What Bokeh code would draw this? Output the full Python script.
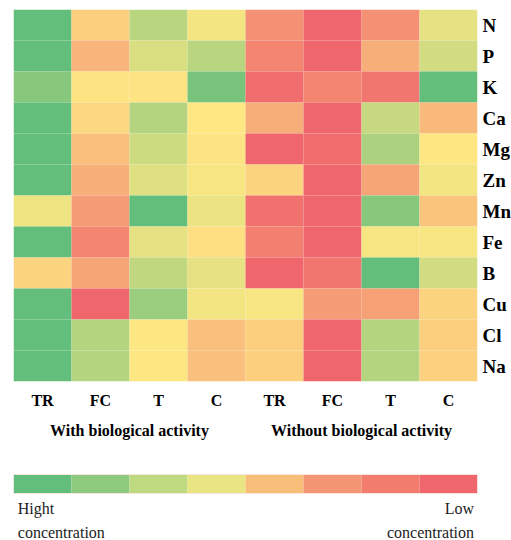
from bokeh.plotting import figure
from bokeh.models import FactorRange, LinearColorMapper, Range1d, ColumnDataSource
from bokeh.layouts import column
from bokeh.transform import transform
from bokeh.core.properties import value
from bokeh.embed import file_html
from bokeh.resources import INLINE

# ---------------- data ----------------
elements = ["N", "P", "K", "Ca", "Mg", "Zn", "Mn", "Fe", "B", "Cu", "Cl", "Na"]
conditions = ["TR", "FC", "T", "C"]
groups = ["With biological activity", "Without biological activity"]

# relative concentration score: 100 = highest (green), 0 = lowest (red)
with_TR = [100, 100, 88, 100, 100, 100, 55, 100, 42, 100, 100, 100]
with_FC = [40, 30, 48, 44, 34, 28, 20, 12, 24, 0, 74, 74]
with_T = [72, 62, 48, 74, 66, 60, 100, 58, 70, 82, 51, 51]
with_C = [54, 72, 93, 50, 48, 52, 56, 46, 58, 54, 34, 34]
without_TR = [16, 12, 2, 28, 0, 42, 4, 10, 0, 52, 40, 40]
without_FC = [0, 0, 12, 0, 2, 0, 0, 0, 6, 20, 0, 0]
without_T = [16, 28, 6, 68, 76, 24, 88, 52, 100, 22, 74, 74]
without_C = [58, 64, 100, 32, 49, 54, 36, 52, 64, 42, 40, 41]

legend_steps = [1, 2, 3, 4, 5, 6, 7, 8]
legend_left = ["Hight", "concentration"]
legend_right = ["Low", "concentration"]

# ---------------- styles ----------------
RED = (239, 103, 108)
YEL = (254, 232, 131)
GRN = (99, 190, 123)


def lerp(a, b, t):
    return "#%02x%02x%02x" % tuple(int(round(a[i] + (b[i] - a[i]) * t)) for i in range(3))


heat_palette = [lerp(RED, YEL, i / 127) for i in range(128)] + [lerp(YEL, GRN, i / 127) for i in range(128)]
legend_palette = ["#63BE7B", "#8FCB7E", "#BFD981", "#E9E583", "#F8BE79", "#F49573", "#F27C6E", "#EF676C"]
SERIF = "Liberation Serif"

# ---------------- heatmap ----------------
columns_data = [with_TR, with_FC, with_T, with_C, without_TR, without_FC, without_T, without_C]
factors = [(g, c) for g in groups for c in conditions]
xs, ys, vs = [], [], []
for f, col in zip(factors, columns_data):
    for e, v in zip(elements, col):
        xs.append(f)
        ys.append(e)
        vs.append(v)
src = ColumnDataSource(dict(x=xs, y=ys, v=vs))
mapper = LinearColorMapper(palette=heat_palette, low=0, high=100)

p = figure(
    x_range=FactorRange(*factors, factor_padding=0, group_padding=0, subgroup_padding=0),
    y_range=FactorRange(*reversed(elements)),
    frame_width=464, frame_height=372,
    min_border_left=13, min_border_right=34, min_border_top=9, min_border_bottom=70,
    y_axis_location="right", toolbar_location=None, output_backend="svg",
)
p.rect(x="x", y="y", width=1, height=1, source=src,
       fill_color=transform("v", mapper), line_color=None)
p.outline_line_color = None
p.grid.grid_line_color = None
p.background_fill_color = "white"

for ax in (p.xaxis, p.yaxis):
    ax.axis_line_color = None
    ax.major_tick_line_color = None
    ax.minor_tick_line_color = None
    ax.major_tick_out = 0
    ax.major_label_text_font = SERIF
    ax.major_label_text_font_style = "bold"
    ax.major_label_text_color = "black"

p.xaxis.major_label_text_font_size = "16px"
p.xaxis.major_label_standoff = 10
p.xaxis.group_text_font = SERIF
p.xaxis.group_text_font_style = "bold"
p.xaxis.group_text_font_size = "16px"
p.xaxis.group_text_color = "black"
p.xaxis.separator_line_color = None
p.yaxis.major_label_text_font_size = "19px"
p.yaxis.major_label_standoff = 5

# ---------------- legend bar ----------------
p2 = figure(
    x_range=Range1d(0, 8), y_range=Range1d(89, 0),
    frame_width=464, frame_height=89,
    min_border_left=13, min_border_right=34, min_border_top=0, min_border_bottom=0,
    x_axis_location=None, y_axis_location=None,
    toolbar_location=None, output_backend="svg",
)
p2.outline_line_color = None
p2.grid.grid_line_color = None
lmap = LinearColorMapper(palette=legend_palette, low=0.5, high=8.5)
lsrc = ColumnDataSource(dict(x=[s - 0.5 for s in legend_steps], s=legend_steps))
p2.rect(x="x", y=32.5, width=1, height=19, source=lsrc,
        fill_color=transform("s", lmap), line_color=None)
p2.rect(x=[4], y=[32.5], width=8, height=19, fill_color=None,
        line_color="#F6E4E2", line_width=1)
p2.text(x=[0.074, 0.074], y=[57, 81], text=legend_left, text_font=value(SERIF),
        text_font_size="16px", text_align="left", text_baseline="middle", text_color="#222222")
p2.text(x=[7.94, 7.94], y=[57, 81], text=legend_right, text_font=value(SERIF),
        text_font_size="16px", text_align="right", text_baseline="middle", text_color="#222222")

layout = column(p, p2, spacing=0)
open("out.html", "w").write(file_html(layout, INLINE))
